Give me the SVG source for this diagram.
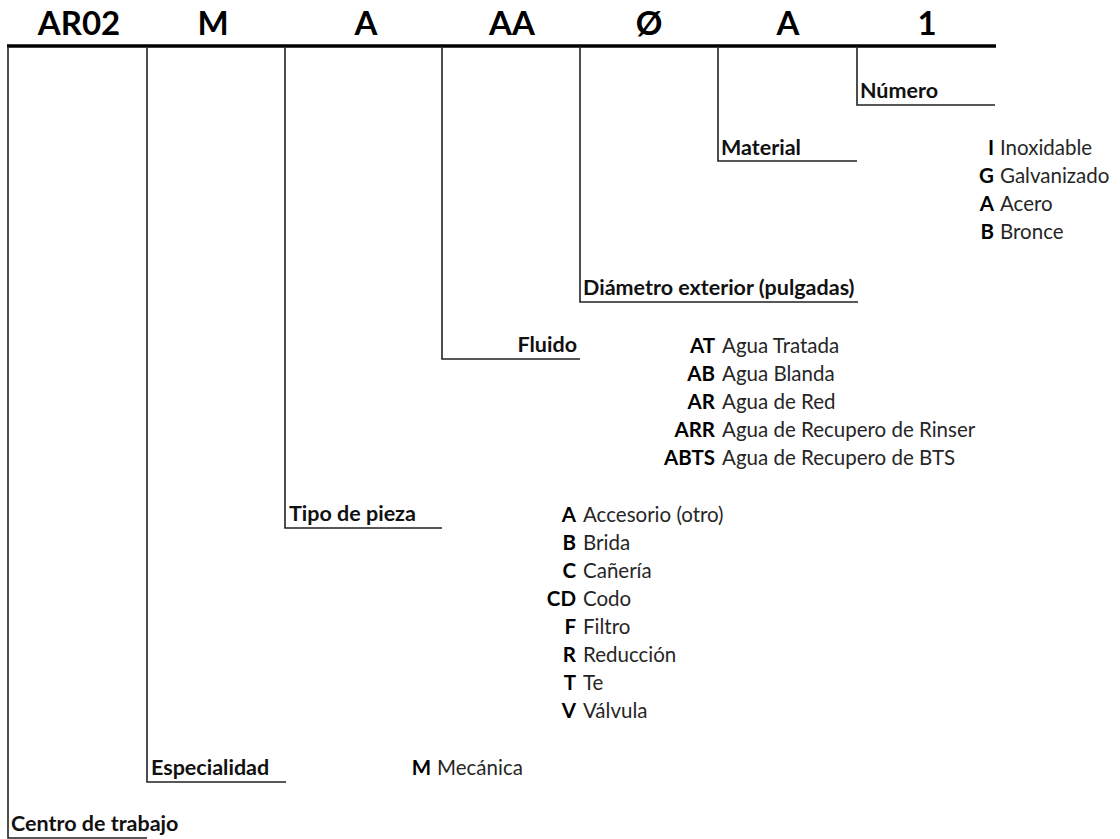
<svg xmlns="http://www.w3.org/2000/svg" width="1120" height="839" viewBox="0 0 1120 839">
<style>
  text { font-family: Lato, "Open Sans", "Liberation Sans", sans-serif; }
  .hdr { font-size: 33px; font-weight: bold; fill: #000; text-anchor: middle; }
  .lbl { font-size: 21.5px; font-weight: bold; fill: #111; }
  .code { font-size: 20.5px; font-weight: bold; fill: #000; text-anchor: end; }
  .desc { font-size: 20.5px; fill: #262626; }
  .conn { fill: none; stroke: #222; stroke-width: 1.6; }
  .bar { fill: none; stroke: #000; stroke-width: 3.5; }
</style>
<rect width="1120" height="839" fill="#fff"/>

<g id="header">
  <text class="hdr" x="79" y="35">AR02</text>
  <text class="hdr" x="213" y="35">M</text>
  <text class="hdr" x="366" y="35">A</text>
  <text class="hdr" x="512" y="35">AA</text>
  <text class="hdr" x="649" y="35">Ø</text>
  <text class="hdr" x="788" y="35">A</text>
  <text class="hdr" x="927" y="35">1</text>
</g>

<g id="connectors">
  <line class="bar" x1="7" y1="46" x2="996" y2="46"/>
  <path class="conn" d="M8,46 V838 H147"/>
  <path class="conn" d="M147,46 V782 H286"/>
  <path class="conn" d="M285,46 V528 H442"/>
  <path class="conn" d="M442,46 V359 H580"/>
  <path class="conn" d="M580,46 V302 H858"/>
  <path class="conn" d="M718,46 V161 H857"/>
  <path class="conn" d="M857,46 V105 H995"/>
</g>

<g id="centro-de-trabajo">
  <text class="lbl" x="11" y="831">Centro de trabajo</text>
</g>

<g id="especialidad">
  <text class="lbl" x="151" y="775">Especialidad</text>
  <text class="code" x="431" y="775">M</text><text class="desc" x="437" y="775">Mecánica</text>
</g>

<g id="tipo-de-pieza">
  <text class="lbl" x="289" y="521">Tipo de pieza</text>
  <text class="code" x="576" y="522">A</text><text class="desc" x="583" y="522">Accesorio (otro)</text>
  <text class="code" x="576" y="550">B</text><text class="desc" x="583" y="550">Brida</text>
  <text class="code" x="576" y="578">C</text><text class="desc" x="583" y="578">Cañería</text>
  <text class="code" x="576" y="606">CD</text><text class="desc" x="583" y="606">Codo</text>
  <text class="code" x="576" y="634">F</text><text class="desc" x="583" y="634">Filtro</text>
  <text class="code" x="576" y="662">R</text><text class="desc" x="583" y="662">Reducción</text>
  <text class="code" x="576" y="690">T</text><text class="desc" x="583" y="690">Te</text>
  <text class="code" x="576" y="718">V</text><text class="desc" x="583" y="718">Válvula</text>
</g>

<g id="fluido">
  <text class="lbl" x="577" y="352" text-anchor="end">Fluido</text>
  <text class="code" x="715" y="353">AT</text><text class="desc" x="722" y="353">Agua Tratada</text>
  <text class="code" x="715" y="381">AB</text><text class="desc" x="722" y="381">Agua Blanda</text>
  <text class="code" x="715" y="409">AR</text><text class="desc" x="722" y="409">Agua de Red</text>
  <text class="code" x="715" y="437">ARR</text><text class="desc" x="722" y="437">Agua de Recupero de Rinser</text>
  <text class="code" x="715" y="465">ABTS</text><text class="desc" x="722" y="465">Agua de Recupero de BTS</text>
</g>

<g id="diametro-exterior">
  <text class="lbl" x="583" y="295">Diámetro exterior (pulgadas)</text>
</g>

<g id="material">
  <text class="lbl" x="721" y="155">Material</text>
  <text class="code" x="994" y="155">I</text><text class="desc" x="1000" y="155">Inoxidable</text>
  <text class="code" x="994" y="183">G</text><text class="desc" x="1000" y="183">Galvanizado</text>
  <text class="code" x="994" y="211">A</text><text class="desc" x="1000" y="211">Acero</text>
  <text class="code" x="994" y="239">B</text><text class="desc" x="1000" y="239">Bronce</text>
</g>

<g id="numero">
  <text class="lbl" x="860" y="98">Número</text>
</g>
</svg>
